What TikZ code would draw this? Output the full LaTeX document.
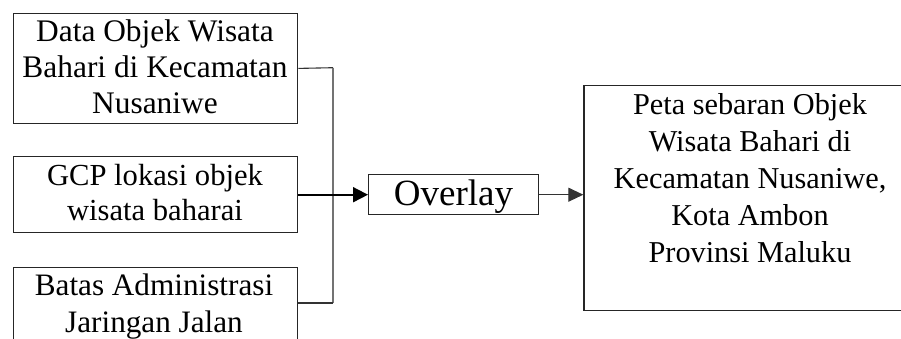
\documentclass[tikz,border=0pt]{standalone}
\usepackage{fontspec}
\setmainfont{Liberation Serif}
\usetikzlibrary{arrows.meta}
\tikzset{
  box/.style={draw=black!85, line width=1.4pt, inner sep=0pt, anchor=north west},
  txt/.style={inner sep=0pt, anchor=north, align=center, font=\fontsize{30}{36.5}\selectfont},
  conn/.style={draw=black!80, line width=1.1pt},
  vconn/.style={draw=black!55, line width=1.3pt},
  arrthick/.style={-{Triangle[length=15pt,width=15pt]}, line width=1.8pt},
  arrthin/.style={-{Triangle[length=15pt,width=14pt]}, line width=1.1pt, draw=black!80},
}
\begin{document}
\begin{tikzpicture}[x=1pt,y=-1pt]
\useasboundingbox (0,0) rectangle (901,338);
\clip (0,0) rectangle (901,338);
% boxes
\node[box, minimum width=284.3, minimum height=110] (b1) at (12.7,12.7) {};
\node[box, minimum width=284.3, minimum height=76] (b2) at (12.7,156) {};
\node[box, minimum width=284.3, minimum height=120] (b3) at (12.7,267) {};
\node[box, minimum width=170, minimum height=40] (ov) at (368,174) {};
\node[box, minimum width=340, minimum height=225] (peta) at (583.3,85) {};
% texts
\node[txt, font=\fontsize{31.4}{36}\selectfont] (t1) at (155,19.5) {Data Objek Wisata\\Bahari di Kecamatan\\Nusaniwe};
\node[txt, font=\fontsize{30.6}{35.5}\selectfont] (t2) at (155,164) {GCP lokasi objek\\wisata baharai};
\node[txt, font=\fontsize{31.2}{37}\selectfont] (t3) at (154,273.5) {Batas Administrasi\\Jaringan Jalan};
\node[txt, font=\fontsize{37}{40}\selectfont] (tov) at (453.5,180) {Overlay};
\node[txt, font=\fontsize{30.3}{37}\selectfont] (tp) at (750,93) {Peta sebaran Objek\\Wisata Bahari di\\Kecamatan Nusaniwe,\\Kota Ambon\\Provinsi Maluku};
% connectors
\coordinate (jt) at (333,67.7);
\coordinate (jb) at (333,303);
\draw[conn] (b1.east) -- (jt);
\draw[vconn] (jt) -- (jb);
\draw[conn] (jb) -- (b3.north east |- jb);
\draw[arrthick] (b2.east) -- (ov.west);
\draw[arrthin] (ov.east) -- (ov.east -| peta.west);
\end{tikzpicture}
\end{document}
